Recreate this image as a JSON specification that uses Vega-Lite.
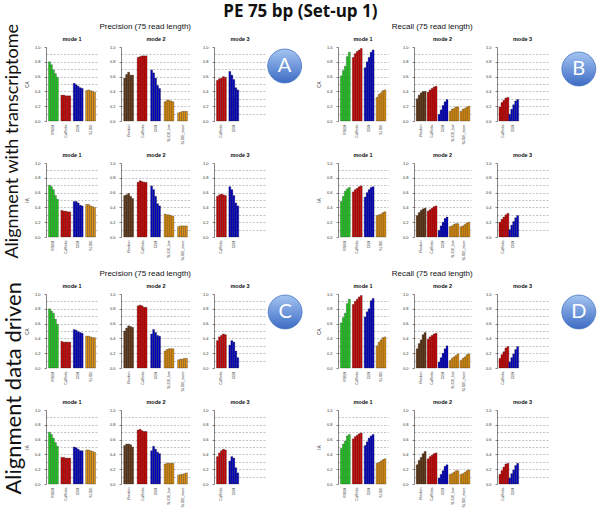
{
"$schema": "https://vega.github.io/schema/vega-lite/v6.json",
"padding": {"left": 3, "top": 2, "right": 0, "bottom": 0},
"title": {"text": "PE 75 bp  (Set-up 1)", "fontSize": 17, "font": "Open Sans", "fontWeight": "bold", "anchor": "middle", "offset": 2, "color": "#111"},
"spacing": 8,
"datasets": {
"A1m1": [{"t":"RSEM","r":1,"v":0.80},{"t":"RSEM","r":2,"v":0.76},{"t":"RSEM","r":3,"v":0.69},{"t":"RSEM","r":4,"v":0.64},{"t":"RSEM","r":5,"v":0.59},{"t":"Cufflinks","r":1,"v":0.35},{"t":"Cufflinks","r":2,"v":0.35},{"t":"Cufflinks","r":3,"v":0.34},{"t":"Cufflinks","r":4,"v":0.34},{"t":"Cufflinks","r":5,"v":0.34},{"t":"CEM","r":1,"v":0.51},{"t":"CEM","r":2,"v":0.49},{"t":"CEM","r":3,"v":0.47},{"t":"CEM","r":4,"v":0.45},{"t":"CEM","r":5,"v":0.44},{"t":"SLIDE","r":1,"v":0.41},{"t":"SLIDE","r":2,"v":0.42},{"t":"SLIDE","r":3,"v":0.41},{"t":"SLIDE","r":4,"v":0.40},{"t":"SLIDE","r":5,"v":0.39}],
"A1m2": [{"t":"iReckon","r":1,"v":0.58},{"t":"iReckon","r":2,"v":0.63},{"t":"iReckon","r":3,"v":0.66},{"t":"iReckon","r":4,"v":0.62},{"t":"iReckon","r":5,"v":0.62},{"t":"Cufflinks","r":1,"v":0.86},{"t":"Cufflinks","r":2,"v":0.87},{"t":"Cufflinks","r":3,"v":0.88},{"t":"Cufflinks","r":4,"v":0.88},{"t":"Cufflinks","r":5,"v":0.88},{"t":"CEM","r":1,"v":0.69},{"t":"CEM","r":2,"v":0.65},{"t":"CEM","r":3,"v":0.58},{"t":"CEM","r":4,"v":0.48},{"t":"CEM","r":5,"v":0.44},{"t":"SLIDE_low","r":1,"v":0.26},{"t":"SLIDE_low","r":2,"v":0.28},{"t":"SLIDE_low","r":3,"v":0.28},{"t":"SLIDE_low","r":4,"v":0.27},{"t":"SLIDE_low","r":5,"v":0.26},{"t":"SLIDE_more","r":1,"v":0.11},{"t":"SLIDE_more","r":2,"v":0.12},{"t":"SLIDE_more","r":3,"v":0.13},{"t":"SLIDE_more","r":4,"v":0.13},{"t":"SLIDE_more","r":5,"v":0.13}],
"A1m3": [{"t":"Cufflinks","r":1,"v":0.55},{"t":"Cufflinks","r":2,"v":0.57},{"t":"Cufflinks","r":3,"v":0.58},{"t":"Cufflinks","r":4,"v":0.60},{"t":"Cufflinks","r":5,"v":0.59},{"t":"CEM","r":1,"v":0.67},{"t":"CEM","r":2,"v":0.62},{"t":"CEM","r":3,"v":0.56},{"t":"CEM","r":4,"v":0.45},{"t":"CEM","r":5,"v":0.42}],
"A2m1": [{"t":"RSEM","r":1,"v":0.70},{"t":"RSEM","r":2,"v":0.68},{"t":"RSEM","r":3,"v":0.64},{"t":"RSEM","r":4,"v":0.56},{"t":"RSEM","r":5,"v":0.51},{"t":"Cufflinks","r":1,"v":0.36},{"t":"Cufflinks","r":2,"v":0.35},{"t":"Cufflinks","r":3,"v":0.35},{"t":"Cufflinks","r":4,"v":0.34},{"t":"Cufflinks","r":5,"v":0.34},{"t":"CEM","r":1,"v":0.48},{"t":"CEM","r":2,"v":0.48},{"t":"CEM","r":3,"v":0.46},{"t":"CEM","r":4,"v":0.43},{"t":"CEM","r":5,"v":0.42},{"t":"SLIDE","r":1,"v":0.44},{"t":"SLIDE","r":2,"v":0.44},{"t":"SLIDE","r":3,"v":0.42},{"t":"SLIDE","r":4,"v":0.41},{"t":"SLIDE","r":5,"v":0.40}],
"A2m2": [{"t":"iReckon","r":1,"v":0.56},{"t":"iReckon","r":2,"v":0.57},{"t":"iReckon","r":3,"v":0.59},{"t":"iReckon","r":4,"v":0.55},{"t":"iReckon","r":5,"v":0.52},{"t":"Cufflinks","r":1,"v":0.74},{"t":"Cufflinks","r":2,"v":0.76},{"t":"Cufflinks","r":3,"v":0.75},{"t":"Cufflinks","r":4,"v":0.74},{"t":"Cufflinks","r":5,"v":0.74},{"t":"CEM","r":1,"v":0.69},{"t":"CEM","r":2,"v":0.64},{"t":"CEM","r":3,"v":0.55},{"t":"CEM","r":4,"v":0.45},{"t":"CEM","r":5,"v":0.42},{"t":"SLIDE_low","r":1,"v":0.31},{"t":"SLIDE_low","r":2,"v":0.30},{"t":"SLIDE_low","r":3,"v":0.30},{"t":"SLIDE_low","r":4,"v":0.29},{"t":"SLIDE_low","r":5,"v":0.28},{"t":"SLIDE_more","r":1,"v":0.14},{"t":"SLIDE_more","r":2,"v":0.15},{"t":"SLIDE_more","r":3,"v":0.15},{"t":"SLIDE_more","r":4,"v":0.15},{"t":"SLIDE_more","r":5,"v":0.15}],
"A2m3": [{"t":"Cufflinks","r":1,"v":0.55},{"t":"Cufflinks","r":2,"v":0.57},{"t":"Cufflinks","r":3,"v":0.58},{"t":"Cufflinks","r":4,"v":0.57},{"t":"Cufflinks","r":5,"v":0.56},{"t":"CEM","r":1,"v":0.68},{"t":"CEM","r":2,"v":0.64},{"t":"CEM","r":3,"v":0.56},{"t":"CEM","r":4,"v":0.46},{"t":"CEM","r":5,"v":0.42}],
"B1m1": [{"t":"RSEM","r":1,"v":0.61},{"t":"RSEM","r":2,"v":0.68},{"t":"RSEM","r":3,"v":0.74},{"t":"RSEM","r":4,"v":0.87},{"t":"RSEM","r":5,"v":0.93},{"t":"Cufflinks","r":1,"v":0.86},{"t":"Cufflinks","r":2,"v":0.91},{"t":"Cufflinks","r":3,"v":0.94},{"t":"Cufflinks","r":4,"v":0.96},{"t":"Cufflinks","r":5,"v":0.98},{"t":"CEM","r":1,"v":0.72},{"t":"CEM","r":2,"v":0.80},{"t":"CEM","r":3,"v":0.86},{"t":"CEM","r":4,"v":0.93},{"t":"CEM","r":5,"v":0.96},{"t":"SLIDE","r":1,"v":0.32},{"t":"SLIDE","r":2,"v":0.36},{"t":"SLIDE","r":3,"v":0.38},{"t":"SLIDE","r":4,"v":0.41},{"t":"SLIDE","r":5,"v":0.42}],
"B1m2": [{"t":"iReckon","r":1,"v":0.30},{"t":"iReckon","r":2,"v":0.35},{"t":"iReckon","r":3,"v":0.38},{"t":"iReckon","r":4,"v":0.40},{"t":"iReckon","r":5,"v":0.40},{"t":"Cufflinks","r":1,"v":0.39},{"t":"Cufflinks","r":2,"v":0.42},{"t":"Cufflinks","r":3,"v":0.44},{"t":"Cufflinks","r":4,"v":0.46},{"t":"Cufflinks","r":5,"v":0.47},{"t":"CEM","r":1,"v":0.09},{"t":"CEM","r":2,"v":0.15},{"t":"CEM","r":3,"v":0.21},{"t":"CEM","r":4,"v":0.26},{"t":"CEM","r":5,"v":0.29},{"t":"SLIDE_low","r":1,"v":0.13},{"t":"SLIDE_low","r":2,"v":0.16},{"t":"SLIDE_low","r":3,"v":0.17},{"t":"SLIDE_low","r":4,"v":0.19},{"t":"SLIDE_low","r":5,"v":0.19},{"t":"SLIDE_more","r":1,"v":0.13},{"t":"SLIDE_more","r":2,"v":0.16},{"t":"SLIDE_more","r":3,"v":0.17},{"t":"SLIDE_more","r":4,"v":0.19},{"t":"SLIDE_more","r":5,"v":0.20}],
"B1m3": [{"t":"Cufflinks","r":1,"v":0.19},{"t":"Cufflinks","r":2,"v":0.25},{"t":"Cufflinks","r":3,"v":0.28},{"t":"Cufflinks","r":4,"v":0.31},{"t":"Cufflinks","r":5,"v":0.32},{"t":"CEM","r":1,"v":0.09},{"t":"CEM","r":2,"v":0.16},{"t":"CEM","r":3,"v":0.22},{"t":"CEM","r":4,"v":0.27},{"t":"CEM","r":5,"v":0.29}],
"B2m1": [{"t":"RSEM","r":1,"v":0.48},{"t":"RSEM","r":2,"v":0.55},{"t":"RSEM","r":3,"v":0.62},{"t":"RSEM","r":4,"v":0.65},{"t":"RSEM","r":5,"v":0.67},{"t":"Cufflinks","r":1,"v":0.61},{"t":"Cufflinks","r":2,"v":0.64},{"t":"Cufflinks","r":3,"v":0.66},{"t":"Cufflinks","r":4,"v":0.68},{"t":"Cufflinks","r":5,"v":0.69},{"t":"CEM","r":1,"v":0.54},{"t":"CEM","r":2,"v":0.60},{"t":"CEM","r":3,"v":0.64},{"t":"CEM","r":4,"v":0.67},{"t":"CEM","r":5,"v":0.68},{"t":"SLIDE","r":1,"v":0.29},{"t":"SLIDE","r":2,"v":0.30},{"t":"SLIDE","r":3,"v":0.31},{"t":"SLIDE","r":4,"v":0.33},{"t":"SLIDE","r":5,"v":0.34}],
"B2m2": [{"t":"iReckon","r":1,"v":0.29},{"t":"iReckon","r":2,"v":0.33},{"t":"iReckon","r":3,"v":0.36},{"t":"iReckon","r":4,"v":0.38},{"t":"iReckon","r":5,"v":0.39},{"t":"Cufflinks","r":1,"v":0.35},{"t":"Cufflinks","r":2,"v":0.37},{"t":"Cufflinks","r":3,"v":0.39},{"t":"Cufflinks","r":4,"v":0.41},{"t":"Cufflinks","r":5,"v":0.42},{"t":"CEM","r":1,"v":0.09},{"t":"CEM","r":2,"v":0.15},{"t":"CEM","r":3,"v":0.20},{"t":"CEM","r":4,"v":0.25},{"t":"CEM","r":5,"v":0.27},{"t":"SLIDE_low","r":1,"v":0.14},{"t":"SLIDE_low","r":2,"v":0.15},{"t":"SLIDE_low","r":3,"v":0.17},{"t":"SLIDE_low","r":4,"v":0.18},{"t":"SLIDE_low","r":5,"v":0.18},{"t":"SLIDE_more","r":1,"v":0.14},{"t":"SLIDE_more","r":2,"v":0.15},{"t":"SLIDE_more","r":3,"v":0.17},{"t":"SLIDE_more","r":4,"v":0.19},{"t":"SLIDE_more","r":5,"v":0.20}],
"B2m3": [{"t":"Cufflinks","r":1,"v":0.20},{"t":"Cufflinks","r":2,"v":0.24},{"t":"Cufflinks","r":3,"v":0.27},{"t":"Cufflinks","r":4,"v":0.30},{"t":"Cufflinks","r":5,"v":0.32},{"t":"CEM","r":1,"v":0.10},{"t":"CEM","r":2,"v":0.16},{"t":"CEM","r":3,"v":0.21},{"t":"CEM","r":4,"v":0.26},{"t":"CEM","r":5,"v":0.29}],
"C1m1": [{"t":"RSEM","r":1,"v":0.80},{"t":"RSEM","r":2,"v":0.77},{"t":"RSEM","r":3,"v":0.74},{"t":"RSEM","r":4,"v":0.66},{"t":"RSEM","r":5,"v":0.59},{"t":"Cufflinks","r":1,"v":0.36},{"t":"Cufflinks","r":2,"v":0.35},{"t":"Cufflinks","r":3,"v":0.35},{"t":"Cufflinks","r":4,"v":0.35},{"t":"Cufflinks","r":5,"v":0.35},{"t":"CEM","r":1,"v":0.52},{"t":"CEM","r":2,"v":0.51},{"t":"CEM","r":3,"v":0.49},{"t":"CEM","r":4,"v":0.48},{"t":"CEM","r":5,"v":0.47},{"t":"SLIDE","r":1,"v":0.43},{"t":"SLIDE","r":2,"v":0.43},{"t":"SLIDE","r":3,"v":0.42},{"t":"SLIDE","r":4,"v":0.41},{"t":"SLIDE","r":5,"v":0.41}],
"C1m2": [{"t":"iReckon","r":1,"v":0.50},{"t":"iReckon","r":2,"v":0.54},{"t":"iReckon","r":3,"v":0.57},{"t":"iReckon","r":4,"v":0.56},{"t":"iReckon","r":5,"v":0.55},{"t":"Cufflinks","r":1,"v":0.84},{"t":"Cufflinks","r":2,"v":0.85},{"t":"Cufflinks","r":3,"v":0.84},{"t":"Cufflinks","r":4,"v":0.82},{"t":"Cufflinks","r":5,"v":0.82},{"t":"CEM","r":1,"v":0.46},{"t":"CEM","r":2,"v":0.52},{"t":"CEM","r":3,"v":0.48},{"t":"CEM","r":4,"v":0.44},{"t":"CEM","r":5,"v":0.43},{"t":"SLIDE_low","r":1,"v":0.23},{"t":"SLIDE_low","r":2,"v":0.25},{"t":"SLIDE_low","r":3,"v":0.26},{"t":"SLIDE_low","r":4,"v":0.26},{"t":"SLIDE_low","r":5,"v":0.26},{"t":"SLIDE_more","r":1,"v":0.11},{"t":"SLIDE_more","r":2,"v":0.12},{"t":"SLIDE_more","r":3,"v":0.12},{"t":"SLIDE_more","r":4,"v":0.13},{"t":"SLIDE_more","r":5,"v":0.13}],
"C1m3": [{"t":"Cufflinks","r":1,"v":0.37},{"t":"Cufflinks","r":2,"v":0.42},{"t":"Cufflinks","r":3,"v":0.44},{"t":"Cufflinks","r":4,"v":0.46},{"t":"Cufflinks","r":5,"v":0.45},{"t":"CEM","r":1,"v":0.31},{"t":"CEM","r":2,"v":0.37},{"t":"CEM","r":3,"v":0.35},{"t":"CEM","r":4,"v":0.23},{"t":"CEM","r":5,"v":0.14}],
"C2m1": [{"t":"RSEM","r":1,"v":0.70},{"t":"RSEM","r":2,"v":0.67},{"t":"RSEM","r":3,"v":0.62},{"t":"RSEM","r":4,"v":0.56},{"t":"RSEM","r":5,"v":0.51},{"t":"Cufflinks","r":1,"v":0.36},{"t":"Cufflinks","r":2,"v":0.36},{"t":"Cufflinks","r":3,"v":0.35},{"t":"Cufflinks","r":4,"v":0.35},{"t":"Cufflinks","r":5,"v":0.35},{"t":"CEM","r":1,"v":0.50},{"t":"CEM","r":2,"v":0.49},{"t":"CEM","r":3,"v":0.47},{"t":"CEM","r":4,"v":0.45},{"t":"CEM","r":5,"v":0.45},{"t":"SLIDE","r":1,"v":0.46},{"t":"SLIDE","r":2,"v":0.46},{"t":"SLIDE","r":3,"v":0.45},{"t":"SLIDE","r":4,"v":0.44},{"t":"SLIDE","r":5,"v":0.43}],
"C2m2": [{"t":"iReckon","r":1,"v":0.52},{"t":"iReckon","r":2,"v":0.54},{"t":"iReckon","r":3,"v":0.54},{"t":"iReckon","r":4,"v":0.53},{"t":"iReckon","r":5,"v":0.50},{"t":"Cufflinks","r":1,"v":0.73},{"t":"Cufflinks","r":2,"v":0.74},{"t":"Cufflinks","r":3,"v":0.72},{"t":"Cufflinks","r":4,"v":0.71},{"t":"Cufflinks","r":5,"v":0.71},{"t":"CEM","r":1,"v":0.45},{"t":"CEM","r":2,"v":0.51},{"t":"CEM","r":3,"v":0.47},{"t":"CEM","r":4,"v":0.43},{"t":"CEM","r":5,"v":0.41},{"t":"SLIDE_low","r":1,"v":0.27},{"t":"SLIDE_low","r":2,"v":0.28},{"t":"SLIDE_low","r":3,"v":0.28},{"t":"SLIDE_low","r":4,"v":0.28},{"t":"SLIDE_low","r":5,"v":0.28},{"t":"SLIDE_more","r":1,"v":0.12},{"t":"SLIDE_more","r":2,"v":0.13},{"t":"SLIDE_more","r":3,"v":0.13},{"t":"SLIDE_more","r":4,"v":0.14},{"t":"SLIDE_more","r":5,"v":0.15}],
"C2m3": [{"t":"Cufflinks","r":1,"v":0.37},{"t":"Cufflinks","r":2,"v":0.42},{"t":"Cufflinks","r":3,"v":0.45},{"t":"Cufflinks","r":4,"v":0.47},{"t":"Cufflinks","r":5,"v":0.46},{"t":"CEM","r":1,"v":0.31},{"t":"CEM","r":2,"v":0.37},{"t":"CEM","r":3,"v":0.35},{"t":"CEM","r":4,"v":0.22},{"t":"CEM","r":5,"v":0.15}],
"D1m1": [{"t":"RSEM","r":1,"v":0.61},{"t":"RSEM","r":2,"v":0.68},{"t":"RSEM","r":3,"v":0.74},{"t":"RSEM","r":4,"v":0.87},{"t":"RSEM","r":5,"v":0.93},{"t":"Cufflinks","r":1,"v":0.86},{"t":"Cufflinks","r":2,"v":0.90},{"t":"Cufflinks","r":3,"v":0.93},{"t":"Cufflinks","r":4,"v":0.96},{"t":"Cufflinks","r":5,"v":0.98},{"t":"CEM","r":1,"v":0.69},{"t":"CEM","r":2,"v":0.76},{"t":"CEM","r":3,"v":0.80},{"t":"CEM","r":4,"v":0.91},{"t":"CEM","r":5,"v":0.94},{"t":"SLIDE","r":1,"v":0.30},{"t":"SLIDE","r":2,"v":0.35},{"t":"SLIDE","r":3,"v":0.38},{"t":"SLIDE","r":4,"v":0.41},{"t":"SLIDE","r":5,"v":0.42}],
"D1m2": [{"t":"iReckon","r":1,"v":0.26},{"t":"iReckon","r":2,"v":0.33},{"t":"iReckon","r":3,"v":0.38},{"t":"iReckon","r":4,"v":0.45},{"t":"iReckon","r":5,"v":0.48},{"t":"Cufflinks","r":1,"v":0.39},{"t":"Cufflinks","r":2,"v":0.42},{"t":"Cufflinks","r":3,"v":0.44},{"t":"Cufflinks","r":4,"v":0.46},{"t":"Cufflinks","r":5,"v":0.47},{"t":"CEM","r":1,"v":0.08},{"t":"CEM","r":2,"v":0.14},{"t":"CEM","r":3,"v":0.20},{"t":"CEM","r":4,"v":0.26},{"t":"CEM","r":5,"v":0.30},{"t":"SLIDE_low","r":1,"v":0.10},{"t":"SLIDE_low","r":2,"v":0.13},{"t":"SLIDE_low","r":3,"v":0.15},{"t":"SLIDE_low","r":4,"v":0.17},{"t":"SLIDE_low","r":5,"v":0.19},{"t":"SLIDE_more","r":1,"v":0.10},{"t":"SLIDE_more","r":2,"v":0.13},{"t":"SLIDE_more","r":3,"v":0.15},{"t":"SLIDE_more","r":4,"v":0.18},{"t":"SLIDE_more","r":5,"v":0.19}],
"D1m3": [{"t":"Cufflinks","r":1,"v":0.13},{"t":"Cufflinks","r":2,"v":0.18},{"t":"Cufflinks","r":3,"v":0.22},{"t":"Cufflinks","r":4,"v":0.27},{"t":"Cufflinks","r":5,"v":0.29},{"t":"CEM","r":1,"v":0.08},{"t":"CEM","r":2,"v":0.14},{"t":"CEM","r":3,"v":0.19},{"t":"CEM","r":4,"v":0.25},{"t":"CEM","r":5,"v":0.29}],
"D2m1": [{"t":"RSEM","r":1,"v":0.48},{"t":"RSEM","r":2,"v":0.54},{"t":"RSEM","r":3,"v":0.58},{"t":"RSEM","r":4,"v":0.65},{"t":"RSEM","r":5,"v":0.67},{"t":"Cufflinks","r":1,"v":0.61},{"t":"Cufflinks","r":2,"v":0.64},{"t":"Cufflinks","r":3,"v":0.66},{"t":"Cufflinks","r":4,"v":0.68},{"t":"Cufflinks","r":5,"v":0.69},{"t":"CEM","r":1,"v":0.52},{"t":"CEM","r":2,"v":0.57},{"t":"CEM","r":3,"v":0.62},{"t":"CEM","r":4,"v":0.65},{"t":"CEM","r":5,"v":0.67},{"t":"SLIDE","r":1,"v":0.28},{"t":"SLIDE","r":2,"v":0.29},{"t":"SLIDE","r":3,"v":0.31},{"t":"SLIDE","r":4,"v":0.33},{"t":"SLIDE","r":5,"v":0.34}],
"D2m2": [{"t":"iReckon","r":1,"v":0.26},{"t":"iReckon","r":2,"v":0.32},{"t":"iReckon","r":3,"v":0.36},{"t":"iReckon","r":4,"v":0.41},{"t":"iReckon","r":5,"v":0.44},{"t":"Cufflinks","r":1,"v":0.34},{"t":"Cufflinks","r":2,"v":0.37},{"t":"Cufflinks","r":3,"v":0.39},{"t":"Cufflinks","r":4,"v":0.41},{"t":"Cufflinks","r":5,"v":0.42},{"t":"CEM","r":1,"v":0.08},{"t":"CEM","r":2,"v":0.13},{"t":"CEM","r":3,"v":0.18},{"t":"CEM","r":4,"v":0.24},{"t":"CEM","r":5,"v":0.26},{"t":"SLIDE_low","r":1,"v":0.13},{"t":"SLIDE_low","r":2,"v":0.14},{"t":"SLIDE_low","r":3,"v":0.16},{"t":"SLIDE_low","r":4,"v":0.18},{"t":"SLIDE_low","r":5,"v":0.18},{"t":"SLIDE_more","r":1,"v":0.13},{"t":"SLIDE_more","r":2,"v":0.14},{"t":"SLIDE_more","r":3,"v":0.16},{"t":"SLIDE_more","r":4,"v":0.18},{"t":"SLIDE_more","r":5,"v":0.19}],
"D2m3": [{"t":"Cufflinks","r":1,"v":0.13},{"t":"Cufflinks","r":2,"v":0.18},{"t":"Cufflinks","r":3,"v":0.23},{"t":"Cufflinks","r":4,"v":0.27},{"t":"Cufflinks","r":5,"v":0.28},{"t":"CEM","r":1,"v":0.08},{"t":"CEM","r":2,"v":0.14},{"t":"CEM","r":3,"v":0.19},{"t":"CEM","r":4,"v":0.25},{"t":"CEM","r":5,"v":0.28}]
},
"vconcat": [
{"title": {"text": "Alignment with transcriptome", "orient": "left", "fontSize": 18, "fontWeight": "normal", "font": "Lato", "anchor": "middle", "offset": 2, "color": "#111"},
 "spacing": 0,
 "hconcat": [
  {"title": {"text": "Precision (75 read length)", "fontSize": 8, "fontWeight": "normal", "offset": 6, "anchor": "middle", "font": "Liberation Sans"},
   "spacing": 7,
   "vconcat": [
    {"spacing": 11, "hconcat": [
     {"width": 52, "height": 74, "title": "mode 1", "data": {"name": "A1m1"}, "mark": "bar", "encoding": {"x": {"field": "t", "type": "nominal", "title": null, "scale": {"domain": ["RSEM","Cufflinks","CEM","SLIDE"]}}, "xOffset": {"field": "r", "type": "ordinal"}, "y": {"field": "v", "type": "quantitative", "title": "CA", "scale": {"domain": [0,1]}}, "color": {"field": "t", "type": "nominal", "legend": null, "scale": {"domain": ["RSEM","iReckon","Cufflinks","CEM","SLIDE","SLIDE_low","SLIDE_more"], "range": ["#1ecb1e","#5e3412","#cc0000","#0000c4","#de9012","#de9012","#de9012"]}}}},
     {"width": 70, "height": 74, "title": "mode 2", "data": {"name": "A1m2"}, "mark": "bar", "encoding": {"x": {"field": "t", "type": "nominal", "title": null, "scale": {"domain": ["iReckon","Cufflinks","CEM","SLIDE_low","SLIDE_more"]}}, "xOffset": {"field": "r", "type": "ordinal"}, "y": {"field": "v", "type": "quantitative", "title": null, "scale": {"domain": [0,1]}}, "color": {"field": "t", "type": "nominal", "legend": null, "scale": {"domain": ["RSEM","iReckon","Cufflinks","CEM","SLIDE","SLIDE_low","SLIDE_more"], "range": ["#1ecb1e","#5e3412","#cc0000","#0000c4","#de9012","#de9012","#de9012"]}}}},
     {"width": 52, "height": 74, "title": "mode 3", "data": {"name": "A1m3"}, "mark": "bar", "encoding": {"x": {"field": "t", "type": "nominal", "title": null, "scale": {"domain": ["Cufflinks","CEM","_1","_2"]}}, "xOffset": {"field": "r", "type": "ordinal"}, "y": {"field": "v", "type": "quantitative", "title": null, "scale": {"domain": [0,1]}}, "color": {"field": "t", "type": "nominal", "legend": null, "scale": {"domain": ["RSEM","iReckon","Cufflinks","CEM","SLIDE","SLIDE_low","SLIDE_more"], "range": ["#1ecb1e","#5e3412","#cc0000","#0000c4","#de9012","#de9012","#de9012"]}}}}
    ]},
    {"spacing": 11, "hconcat": [
     {"width": 52, "height": 74, "title": "mode 1", "data": {"name": "A2m1"}, "mark": "bar", "encoding": {"x": {"field": "t", "type": "nominal", "title": null, "scale": {"domain": ["RSEM","Cufflinks","CEM","SLIDE"]}}, "xOffset": {"field": "r", "type": "ordinal"}, "y": {"field": "v", "type": "quantitative", "title": "IA", "scale": {"domain": [0,1]}}, "color": {"field": "t", "type": "nominal", "legend": null, "scale": {"domain": ["RSEM","iReckon","Cufflinks","CEM","SLIDE","SLIDE_low","SLIDE_more"], "range": ["#1ecb1e","#5e3412","#cc0000","#0000c4","#de9012","#de9012","#de9012"]}}}},
     {"width": 70, "height": 74, "title": "mode 2", "data": {"name": "A2m2"}, "mark": "bar", "encoding": {"x": {"field": "t", "type": "nominal", "title": null, "scale": {"domain": ["iReckon","Cufflinks","CEM","SLIDE_low","SLIDE_more"]}}, "xOffset": {"field": "r", "type": "ordinal"}, "y": {"field": "v", "type": "quantitative", "title": null, "scale": {"domain": [0,1]}}, "color": {"field": "t", "type": "nominal", "legend": null, "scale": {"domain": ["RSEM","iReckon","Cufflinks","CEM","SLIDE","SLIDE_low","SLIDE_more"], "range": ["#1ecb1e","#5e3412","#cc0000","#0000c4","#de9012","#de9012","#de9012"]}}}},
     {"width": 52, "height": 74, "title": "mode 3", "data": {"name": "A2m3"}, "mark": "bar", "encoding": {"x": {"field": "t", "type": "nominal", "title": null, "scale": {"domain": ["Cufflinks","CEM","_1","_2"]}}, "xOffset": {"field": "r", "type": "ordinal"}, "y": {"field": "v", "type": "quantitative", "title": null, "scale": {"domain": [0,1]}}, "color": {"field": "t", "type": "nominal", "legend": null, "scale": {"domain": ["RSEM","iReckon","Cufflinks","CEM","SLIDE","SLIDE_low","SLIDE_more"], "range": ["#1ecb1e","#5e3412","#cc0000","#0000c4","#de9012","#de9012","#de9012"]}}}}
    ]}
   ]},
  {"width": 49, "height": 38, "data": {"values": [{"lab": "A"}]}, "encoding": {"x": {"datum": 0.36, "type": "quantitative", "scale": {"domain": [0,1]}, "axis": null}}, "layer": [
    {"mark": {"type": "point", "shape": "circle", "filled": true, "size": 1150, "opacity": 1, "stroke": "#4a78c2", "strokeWidth": 0.8, "color": {"gradient": "linear", "x1": 0, "y1": 0, "x2": 0, "y2": 1, "stops": [{"offset": 0, "color": "#a4c4f2"}, {"offset": 1, "color": "#3d6cc4"}]}}},
    {"mark": {"type": "text", "fontSize": 20, "color": "white", "font": "Lato"}, "encoding": {"text": {"field": "lab"}}}
  ]},
  {"title": {"text": "Recall (75 read length)", "fontSize": 8, "fontWeight": "normal", "offset": 6, "anchor": "middle", "font": "Liberation Sans"},
   "spacing": 7,
   "vconcat": [
    {"spacing": 14, "hconcat": [
     {"width": 50, "height": 74, "title": "mode 1", "data": {"name": "B1m1"}, "mark": "bar", "encoding": {"x": {"field": "t", "type": "nominal", "title": null, "scale": {"domain": ["RSEM","Cufflinks","CEM","SLIDE"]}}, "xOffset": {"field": "r", "type": "ordinal"}, "y": {"field": "v", "type": "quantitative", "title": "CA", "scale": {"domain": [0,1]}}, "color": {"field": "t", "type": "nominal", "legend": null, "scale": {"domain": ["RSEM","iReckon","Cufflinks","CEM","SLIDE","SLIDE_low","SLIDE_more"], "range": ["#1ecb1e","#5e3412","#cc0000","#0000c4","#de9012","#de9012","#de9012"]}}}},
     {"width": 57, "height": 74, "title": "mode 2", "data": {"name": "B1m2"}, "mark": "bar", "encoding": {"x": {"field": "t", "type": "nominal", "title": null, "scale": {"domain": ["iReckon","Cufflinks","CEM","SLIDE_low","SLIDE_more"]}}, "xOffset": {"field": "r", "type": "ordinal"}, "y": {"field": "v", "type": "quantitative", "title": null, "scale": {"domain": [0,1]}}, "color": {"field": "t", "type": "nominal", "legend": null, "scale": {"domain": ["RSEM","iReckon","Cufflinks","CEM","SLIDE","SLIDE_low","SLIDE_more"], "range": ["#1ecb1e","#5e3412","#cc0000","#0000c4","#de9012","#de9012","#de9012"]}}}},
     {"width": 51, "height": 74, "title": "mode 3", "data": {"name": "B1m3"}, "mark": "bar", "encoding": {"x": {"field": "t", "type": "nominal", "title": null, "scale": {"domain": ["Cufflinks","CEM","_1","_2","_3"]}}, "xOffset": {"field": "r", "type": "ordinal"}, "y": {"field": "v", "type": "quantitative", "title": null, "scale": {"domain": [0,1]}}, "color": {"field": "t", "type": "nominal", "legend": null, "scale": {"domain": ["RSEM","iReckon","Cufflinks","CEM","SLIDE","SLIDE_low","SLIDE_more"], "range": ["#1ecb1e","#5e3412","#cc0000","#0000c4","#de9012","#de9012","#de9012"]}}}}
    ]},
    {"spacing": 14, "hconcat": [
     {"width": 50, "height": 74, "title": "mode 1", "data": {"name": "B2m1"}, "mark": "bar", "encoding": {"x": {"field": "t", "type": "nominal", "title": null, "scale": {"domain": ["RSEM","Cufflinks","CEM","SLIDE"]}}, "xOffset": {"field": "r", "type": "ordinal"}, "y": {"field": "v", "type": "quantitative", "title": "IA", "scale": {"domain": [0,1]}}, "color": {"field": "t", "type": "nominal", "legend": null, "scale": {"domain": ["RSEM","iReckon","Cufflinks","CEM","SLIDE","SLIDE_low","SLIDE_more"], "range": ["#1ecb1e","#5e3412","#cc0000","#0000c4","#de9012","#de9012","#de9012"]}}}},
     {"width": 57, "height": 74, "title": "mode 2", "data": {"name": "B2m2"}, "mark": "bar", "encoding": {"x": {"field": "t", "type": "nominal", "title": null, "scale": {"domain": ["iReckon","Cufflinks","CEM","SLIDE_low","SLIDE_more"]}}, "xOffset": {"field": "r", "type": "ordinal"}, "y": {"field": "v", "type": "quantitative", "title": null, "scale": {"domain": [0,1]}}, "color": {"field": "t", "type": "nominal", "legend": null, "scale": {"domain": ["RSEM","iReckon","Cufflinks","CEM","SLIDE","SLIDE_low","SLIDE_more"], "range": ["#1ecb1e","#5e3412","#cc0000","#0000c4","#de9012","#de9012","#de9012"]}}}},
     {"width": 51, "height": 74, "title": "mode 3", "data": {"name": "B2m3"}, "mark": "bar", "encoding": {"x": {"field": "t", "type": "nominal", "title": null, "scale": {"domain": ["Cufflinks","CEM","_1","_2","_3"]}}, "xOffset": {"field": "r", "type": "ordinal"}, "y": {"field": "v", "type": "quantitative", "title": null, "scale": {"domain": [0,1]}}, "color": {"field": "t", "type": "nominal", "legend": null, "scale": {"domain": ["RSEM","iReckon","Cufflinks","CEM","SLIDE","SLIDE_low","SLIDE_more"], "range": ["#1ecb1e","#5e3412","#cc0000","#0000c4","#de9012","#de9012","#de9012"]}}}}
    ]}
   ]},
  {"width": 44, "height": 44, "data": {"values": [{"lab": "B"}]}, "encoding": {"x": {"datum": 0.7, "type": "quantitative", "scale": {"domain": [0,1]}, "axis": null}}, "layer": [
    {"mark": {"type": "point", "shape": "circle", "filled": true, "size": 1150, "opacity": 1, "stroke": "#4a78c2", "strokeWidth": 0.8, "color": {"gradient": "linear", "x1": 0, "y1": 0, "x2": 0, "y2": 1, "stops": [{"offset": 0, "color": "#a4c4f2"}, {"offset": 1, "color": "#3d6cc4"}]}}},
    {"mark": {"type": "text", "fontSize": 20, "color": "white", "font": "Lato"}, "encoding": {"text": {"field": "lab"}}}
  ]}
 ]},
{"title": {"text": "Alignment data driven", "orient": "left", "fontSize": 22, "fontWeight": "normal", "font": "Lato", "anchor": "middle", "offset": -2, "color": "#111"},
 "spacing": 0,
 "hconcat": [
  {"title": {"text": "Precision (75 read length)", "fontSize": 8, "fontWeight": "normal", "offset": 6, "anchor": "middle", "font": "Liberation Sans"},
   "spacing": 7,
   "vconcat": [
    {"spacing": 11, "hconcat": [
     {"width": 52, "height": 74, "title": "mode 1", "data": {"name": "C1m1"}, "mark": "bar", "encoding": {"x": {"field": "t", "type": "nominal", "title": null, "scale": {"domain": ["RSEM","Cufflinks","CEM","SLIDE"]}}, "xOffset": {"field": "r", "type": "ordinal"}, "y": {"field": "v", "type": "quantitative", "title": "CA", "scale": {"domain": [0,1]}}, "color": {"field": "t", "type": "nominal", "legend": null, "scale": {"domain": ["RSEM","iReckon","Cufflinks","CEM","SLIDE","SLIDE_low","SLIDE_more"], "range": ["#1ecb1e","#5e3412","#cc0000","#0000c4","#de9012","#de9012","#de9012"]}}}},
     {"width": 70, "height": 74, "title": "mode 2", "data": {"name": "C1m2"}, "mark": "bar", "encoding": {"x": {"field": "t", "type": "nominal", "title": null, "scale": {"domain": ["iReckon","Cufflinks","CEM","SLIDE_low","SLIDE_more"]}}, "xOffset": {"field": "r", "type": "ordinal"}, "y": {"field": "v", "type": "quantitative", "title": null, "scale": {"domain": [0,1]}}, "color": {"field": "t", "type": "nominal", "legend": null, "scale": {"domain": ["RSEM","iReckon","Cufflinks","CEM","SLIDE","SLIDE_low","SLIDE_more"], "range": ["#1ecb1e","#5e3412","#cc0000","#0000c4","#de9012","#de9012","#de9012"]}}}},
     {"width": 52, "height": 74, "title": "mode 3", "data": {"name": "C1m3"}, "mark": "bar", "encoding": {"x": {"field": "t", "type": "nominal", "title": null, "scale": {"domain": ["Cufflinks","CEM","_1","_2"]}}, "xOffset": {"field": "r", "type": "ordinal"}, "y": {"field": "v", "type": "quantitative", "title": null, "scale": {"domain": [0,1]}}, "color": {"field": "t", "type": "nominal", "legend": null, "scale": {"domain": ["RSEM","iReckon","Cufflinks","CEM","SLIDE","SLIDE_low","SLIDE_more"], "range": ["#1ecb1e","#5e3412","#cc0000","#0000c4","#de9012","#de9012","#de9012"]}}}}
    ]},
    {"spacing": 11, "hconcat": [
     {"width": 52, "height": 74, "title": "mode 1", "data": {"name": "C2m1"}, "mark": "bar", "encoding": {"x": {"field": "t", "type": "nominal", "title": null, "scale": {"domain": ["RSEM","Cufflinks","CEM","SLIDE"]}}, "xOffset": {"field": "r", "type": "ordinal"}, "y": {"field": "v", "type": "quantitative", "title": "IA", "scale": {"domain": [0,1]}}, "color": {"field": "t", "type": "nominal", "legend": null, "scale": {"domain": ["RSEM","iReckon","Cufflinks","CEM","SLIDE","SLIDE_low","SLIDE_more"], "range": ["#1ecb1e","#5e3412","#cc0000","#0000c4","#de9012","#de9012","#de9012"]}}}},
     {"width": 70, "height": 74, "title": "mode 2", "data": {"name": "C2m2"}, "mark": "bar", "encoding": {"x": {"field": "t", "type": "nominal", "title": null, "scale": {"domain": ["iReckon","Cufflinks","CEM","SLIDE_low","SLIDE_more"]}}, "xOffset": {"field": "r", "type": "ordinal"}, "y": {"field": "v", "type": "quantitative", "title": null, "scale": {"domain": [0,1]}}, "color": {"field": "t", "type": "nominal", "legend": null, "scale": {"domain": ["RSEM","iReckon","Cufflinks","CEM","SLIDE","SLIDE_low","SLIDE_more"], "range": ["#1ecb1e","#5e3412","#cc0000","#0000c4","#de9012","#de9012","#de9012"]}}}},
     {"width": 52, "height": 74, "title": "mode 3", "data": {"name": "C2m3"}, "mark": "bar", "encoding": {"x": {"field": "t", "type": "nominal", "title": null, "scale": {"domain": ["Cufflinks","CEM","_1","_2"]}}, "xOffset": {"field": "r", "type": "ordinal"}, "y": {"field": "v", "type": "quantitative", "title": null, "scale": {"domain": [0,1]}}, "color": {"field": "t", "type": "nominal", "legend": null, "scale": {"domain": ["RSEM","iReckon","Cufflinks","CEM","SLIDE","SLIDE_low","SLIDE_more"], "range": ["#1ecb1e","#5e3412","#cc0000","#0000c4","#de9012","#de9012","#de9012"]}}}}
    ]}
   ]},
  {"width": 49, "height": 36, "data": {"values": [{"lab": "C"}]}, "encoding": {"x": {"datum": 0.37, "type": "quantitative", "scale": {"domain": [0,1]}, "axis": null}}, "layer": [
    {"mark": {"type": "point", "shape": "circle", "filled": true, "size": 1150, "opacity": 1, "stroke": "#4a78c2", "strokeWidth": 0.8, "color": {"gradient": "linear", "x1": 0, "y1": 0, "x2": 0, "y2": 1, "stops": [{"offset": 0, "color": "#a4c4f2"}, {"offset": 1, "color": "#3d6cc4"}]}}},
    {"mark": {"type": "text", "fontSize": 20, "color": "white", "font": "Lato"}, "encoding": {"text": {"field": "lab"}}}
  ]},
  {"title": {"text": "Recall (75 read length)", "fontSize": 8, "fontWeight": "normal", "offset": 6, "anchor": "middle", "font": "Liberation Sans"},
   "spacing": 7,
   "vconcat": [
    {"spacing": 14, "hconcat": [
     {"width": 50, "height": 74, "title": "mode 1", "data": {"name": "D1m1"}, "mark": "bar", "encoding": {"x": {"field": "t", "type": "nominal", "title": null, "scale": {"domain": ["RSEM","Cufflinks","CEM","SLIDE"]}}, "xOffset": {"field": "r", "type": "ordinal"}, "y": {"field": "v", "type": "quantitative", "title": "CA", "scale": {"domain": [0,1]}}, "color": {"field": "t", "type": "nominal", "legend": null, "scale": {"domain": ["RSEM","iReckon","Cufflinks","CEM","SLIDE","SLIDE_low","SLIDE_more"], "range": ["#1ecb1e","#5e3412","#cc0000","#0000c4","#de9012","#de9012","#de9012"]}}}},
     {"width": 57, "height": 74, "title": "mode 2", "data": {"name": "D1m2"}, "mark": "bar", "encoding": {"x": {"field": "t", "type": "nominal", "title": null, "scale": {"domain": ["iReckon","Cufflinks","CEM","SLIDE_low","SLIDE_more"]}}, "xOffset": {"field": "r", "type": "ordinal"}, "y": {"field": "v", "type": "quantitative", "title": null, "scale": {"domain": [0,1]}}, "color": {"field": "t", "type": "nominal", "legend": null, "scale": {"domain": ["RSEM","iReckon","Cufflinks","CEM","SLIDE","SLIDE_low","SLIDE_more"], "range": ["#1ecb1e","#5e3412","#cc0000","#0000c4","#de9012","#de9012","#de9012"]}}}},
     {"width": 51, "height": 74, "title": "mode 3", "data": {"name": "D1m3"}, "mark": "bar", "encoding": {"x": {"field": "t", "type": "nominal", "title": null, "scale": {"domain": ["Cufflinks","CEM","_1","_2","_3"]}}, "xOffset": {"field": "r", "type": "ordinal"}, "y": {"field": "v", "type": "quantitative", "title": null, "scale": {"domain": [0,1]}}, "color": {"field": "t", "type": "nominal", "legend": null, "scale": {"domain": ["RSEM","iReckon","Cufflinks","CEM","SLIDE","SLIDE_low","SLIDE_more"], "range": ["#1ecb1e","#5e3412","#cc0000","#0000c4","#de9012","#de9012","#de9012"]}}}}
    ]},
    {"spacing": 14, "hconcat": [
     {"width": 50, "height": 74, "title": "mode 1", "data": {"name": "D2m1"}, "mark": "bar", "encoding": {"x": {"field": "t", "type": "nominal", "title": null, "scale": {"domain": ["RSEM","Cufflinks","CEM","SLIDE"]}}, "xOffset": {"field": "r", "type": "ordinal"}, "y": {"field": "v", "type": "quantitative", "title": "IA", "scale": {"domain": [0,1]}}, "color": {"field": "t", "type": "nominal", "legend": null, "scale": {"domain": ["RSEM","iReckon","Cufflinks","CEM","SLIDE","SLIDE_low","SLIDE_more"], "range": ["#1ecb1e","#5e3412","#cc0000","#0000c4","#de9012","#de9012","#de9012"]}}}},
     {"width": 57, "height": 74, "title": "mode 2", "data": {"name": "D2m2"}, "mark": "bar", "encoding": {"x": {"field": "t", "type": "nominal", "title": null, "scale": {"domain": ["iReckon","Cufflinks","CEM","SLIDE_low","SLIDE_more"]}}, "xOffset": {"field": "r", "type": "ordinal"}, "y": {"field": "v", "type": "quantitative", "title": null, "scale": {"domain": [0,1]}}, "color": {"field": "t", "type": "nominal", "legend": null, "scale": {"domain": ["RSEM","iReckon","Cufflinks","CEM","SLIDE","SLIDE_low","SLIDE_more"], "range": ["#1ecb1e","#5e3412","#cc0000","#0000c4","#de9012","#de9012","#de9012"]}}}},
     {"width": 51, "height": 74, "title": "mode 3", "data": {"name": "D2m3"}, "mark": "bar", "encoding": {"x": {"field": "t", "type": "nominal", "title": null, "scale": {"domain": ["Cufflinks","CEM","_1","_2","_3"]}}, "xOffset": {"field": "r", "type": "ordinal"}, "y": {"field": "v", "type": "quantitative", "title": null, "scale": {"domain": [0,1]}}, "color": {"field": "t", "type": "nominal", "legend": null, "scale": {"domain": ["RSEM","iReckon","Cufflinks","CEM","SLIDE","SLIDE_low","SLIDE_more"], "range": ["#1ecb1e","#5e3412","#cc0000","#0000c4","#de9012","#de9012","#de9012"]}}}}
    ]}
   ]},
  {"width": 44, "height": 36, "data": {"values": [{"lab": "D"}]}, "encoding": {"x": {"datum": 0.7, "type": "quantitative", "scale": {"domain": [0,1]}, "axis": null}}, "layer": [
    {"mark": {"type": "point", "shape": "circle", "filled": true, "size": 1150, "opacity": 1, "stroke": "#4a78c2", "strokeWidth": 0.8, "color": {"gradient": "linear", "x1": 0, "y1": 0, "x2": 0, "y2": 1, "stops": [{"offset": 0, "color": "#a4c4f2"}, {"offset": 1, "color": "#3d6cc4"}]}}},
    {"mark": {"type": "text", "fontSize": 20, "color": "white", "font": "Lato"}, "encoding": {"text": {"field": "lab"}}}
  ]}
 ]}
],
"config": {
 "font": "Liberation Sans",
 "view": {"stroke": null},
 "bar": {"stroke": "#222", "strokeWidth": 0.3},
 "title": {"fontSize": 5.5, "fontWeight": "bold", "offset": 3, "color": "#111"},
 "scale": {"bandPaddingInner": 0.17, "bandPaddingOuter": 0.06, "offsetBandPaddingInner": 0, "offsetBandPaddingOuter": 0},
 "axisX": {"domain": false, "ticks": false, "labelAngle": 270, "labelFontSize": 3.5, "labelPadding": 3, "labelColor": "#333", "labelExpr": "indexof(datum.value,'_')==0 ? '' : datum.label"},
 "axisY": {"tickCount": 10, "labelExpr": "round(datum.value*10)%2==0 ? format(datum.value,'.1f') : ''", "labelOverlap": false, "labelFontSize": 4, "labelColor": "#333", "labelPadding": 4, "tickSize": 2, "tickColor": "#333", "tickWidth": 0.6, "domainColor": "#333", "domainWidth": 0.6, "grid": true, "gridDash": [2,1.5], "gridColor": "#888", "gridWidth": 0.5, "gridOpacity": {"condition": {"test": "datum.value < 0.05 || datum.value > 0.95", "value": 0}, "value": 1}, "tickOpacity": {"condition": {"test": "round(datum.value*10)%2==1", "value": 0}, "value": 1}, "titleFontSize": 4.5, "titleFontWeight": "normal", "titlePadding": 5, "titleColor": "#333"}
}
}
